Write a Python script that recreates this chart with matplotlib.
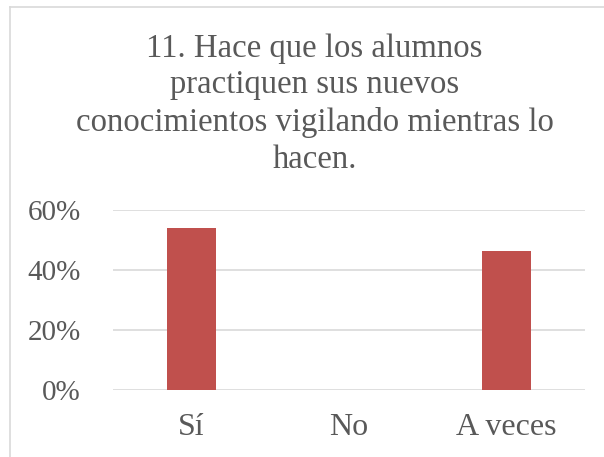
import matplotlib.pyplot as plt
from matplotlib.lines import Line2D
from matplotlib.ticker import PercentFormatter

# datos del grafico
categorias = ["Sí", "No", "A veces"]
valores = [0.5385, 0.0, 0.4615]
titulo = "11. Hace que los alumnos\npractiquen sus nuevos\nconocimientos vigilando mientras lo\nhacen."

gris = "#595959"
plt.rcParams['font.family'] = ['Liberation Serif', 'DejaVu Serif']

fig = plt.figure(figsize=(6.04, 4.57), dpi=100)
ax = fig.add_axes([0.187, 0.1477, 0.7815, 0.3928])

ax.bar(range(len(categorias)), valores, width=0.31, color="#C0504D", zorder=3)
ax.set_xlim(-0.5, len(categorias) - 0.5)
ax.set_ylim(0, 0.6)
ax.set_yticks([0, 0.2, 0.4, 0.6])
ax.yaxis.set_major_formatter(PercentFormatter(1.0, decimals=0))
ax.set_xticks(range(len(categorias)))
ax.set_xticklabels(categorias)

ax.grid(axis='y', color="#D9D9D9", linewidth=1.2, zorder=0)
for s in ax.spines.values():
    s.set_visible(False)
ax.tick_params(axis='both', length=0, colors=gris)
ax.tick_params(axis='y', pad=23, labelsize=21)
ax.tick_params(axis='x', pad=17, labelsize=23)

fig.text(0.521, 1 - 33 / 457, titulo, ha='center', va='top', fontsize=23.6,
         color=gris, linespacing=1.27)

# borde del area del grafico (solo se ve arriba y a la izquierda)
fig.add_artist(Line2D([10 / 604, 10 / 604], [0, 1 - 7 / 457], color="#D9D9D9", linewidth=1.2))
fig.add_artist(Line2D([10 / 604, 1], [1 - 7 / 457, 1 - 7 / 457], color="#D9D9D9", linewidth=1.2))

fig.savefig("out.png", dpi=100)
